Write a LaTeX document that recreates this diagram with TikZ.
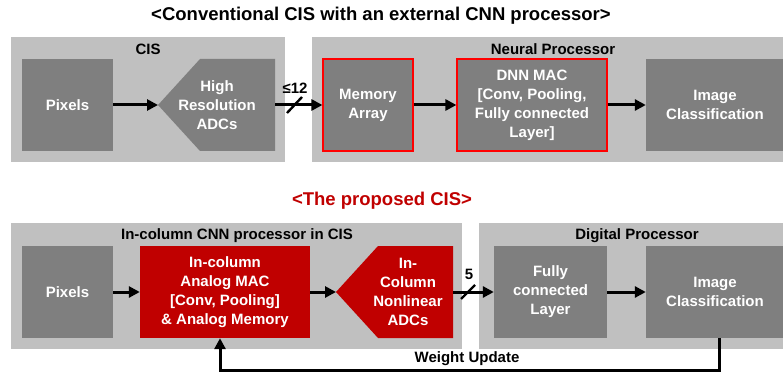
\documentclass[tikz,border=0pt]{standalone}
\usepackage{fontspec}
\setmainfont{Liberation Sans}
\usetikzlibrary{arrows.meta}
\definecolor{panelgray}{RGB}{192,192,192}
\definecolor{boxgray}{RGB}{127,127,127}
\definecolor{darkred}{RGB}{192,0,0}
\begin{document}
\begin{tikzpicture}[x=1pt,y=-1pt,
    every node/.style={font=\bfseries\fontsize{15}{19}\selectfont},
    block/.style={rectangle,fill=boxgray,text=white,align=center,inner sep=0pt,minimum height=92pt},
    redblock/.style={block,fill=darkred},
    redframe/.style={block,draw=red,line width=1.2pt},
    adctext/.style={text=white,align=center,inner sep=0pt},
    title/.style={font=\bfseries\fontsize{18.5}{22}\selectfont},
    flow/.style={line width=3pt,-{Triangle[length=11pt,width=11pt]}},
    tick/.style={line width=2.4pt}]
    \useasboundingbox (0,0) rectangle (783,374);

    % Panels
    \fill[panelgray] (11,37) rectangle (285,162);
    \fill[panelgray] (312,37) rectangle (795,162);
    \fill[panelgray] (11,223) rectangle (462,349);
    \fill[panelgray] (479,223) rectangle (795,349);

    % Titles
    \node[title] (t1) at (381,16) {<Conventional CIS with an external CNN processor>};
    \node[title,text=darkred] (t2) at (382,201) {<The proposed CIS>};
    \node (cis) at (148,49) {CIS};
    \node (np) at (553,49) {Neural Processor};
    \node (icp) at (237,236) {In-column CNN processor in CIS};
    \node (dp) at (637,236) {Digital Processor};

    % ADC shapes
    \fill[boxgray] (158,105) coordinate (adc1w) -- (200,59) -- (275,59) -- (275,151) -- (200,151) -- cycle;
    \coordinate (adc1e) at (275,105);
    \fill[darkred] (336,292) coordinate (adc2w) -- (378,246) -- (453,246) -- (453,338) -- (378,338) -- cycle;
    \coordinate (adc2e) at (453,292);

    % Top row
    \node[block,minimum width=91pt] (pix1) at (67.5,105) {Pixels};
    \node[adctext] (adc1) at (217,105) {High\\Resolution\\ADCs};
    \node[redframe,minimum width=90pt] (mem) at (368,105) {Memory\\Array};
    \node[redframe,minimum width=150pt] (dnn) at (532,105) {DNN MAC\\{[}Conv, Pooling,\\Fully connected\\Layer{]}};
    \node[block,minimum width=138pt] (cls1) at (715,105) {Image\\Classification};

    % Bottom row
    \node[block,minimum width=91pt] (pix2) at (67.5,292) {Pixels};
    \node[redblock,minimum width=170pt] (mac) at (225,292) {In-column\\Analog MAC\\{[}Conv, Pooling{]}\\\& Analog Memory};
    \node[adctext] (adc2) at (408,292) {In-\\Column\\Nonlinear\\ADCs};
    \node[block,minimum width=113pt] (fcl) at (550.5,292) {Fully\\connected\\Layer};
    \node[block,minimum width=138pt] (cls2) at (715,292) {Image\\Classification};

    % Draw arrows
    \draw[flow] (pix1) -- (adc1w);
    \draw[flow] (adc1e) -- (mem);
    \draw[flow] (mem) -- (dnn);
    \draw[flow] (dnn) -- (cls1);
    \draw[tick] (287,113) -- (302,97);
    \node (b12) at (295,88) {≤12};

    \draw[flow] (pix2) -- (mac);
    \draw[flow] (mac) -- (adc2w);
    \draw[flow] (adc2e) -- (fcl);
    \draw[flow] (fcl) -- (cls2);
    \draw[tick] (461,299) -- (475,285);
    \node (b5) at (469,274) {5};

    % Weight update loop
    \draw[flow] ([xshift=4pt]cls2.south) -- ++(0,32) -| ([xshift=-5pt]mac.south);
    \node (wu) at (467,359) {Weight Update};
\end{tikzpicture}
\end{document}
